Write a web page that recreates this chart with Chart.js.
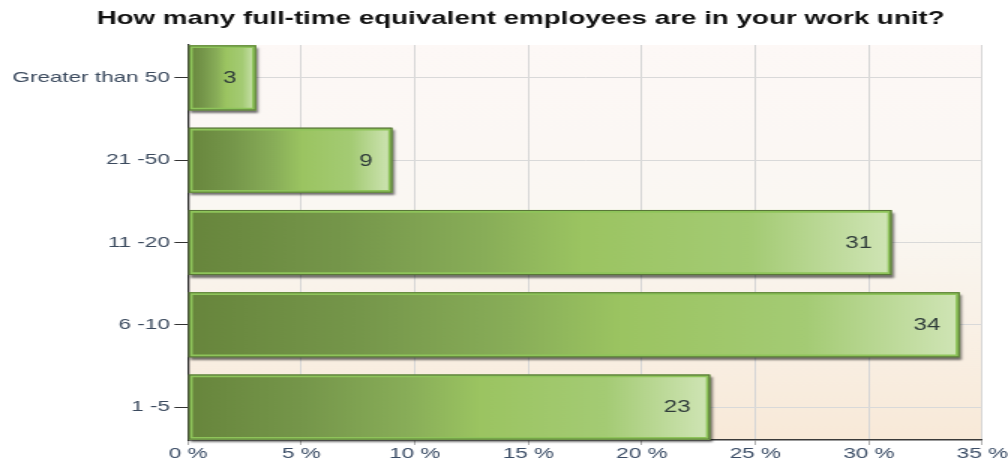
<!DOCTYPE html>
<html><head><meta charset="utf-8">
<script src="https://cdn.jsdelivr.net/npm/chart.js@4"></script>
<style>
html,body{margin:0;padding:0;background:#fff;overflow:hidden;}
#wrap{width:672px;height:463px;transform:scale(1.5,1);transform-origin:0 0;}
canvas{display:block;}
</style></head><body>
<div id="wrap"><canvas id="c" width="672" height="463"></canvas></div>
<script>
const chartTitle = 'How many full-time equivalent employees are in your work unit?';
const categories = ['Greater than 50', '21 -50', '11 -20', '6 -10', '1 -5'];
const percentValues = [3, 9, 31, 34, 23];
const xTickValues = [0, 5, 10, 15, 20, 25, 30, 35];

const FONT = "'Liberation Sans', Arial, sans-serif";

function barFill(c) {
  const chart = c.chart, xs = chart.scales && chart.scales.x;
  if (!xs || c.type !== 'data' || !c.raw) return '#9cc560';
  const x0 = xs.getPixelForValue(0), x1 = xs.getPixelForValue(c.raw.x);
  if (!isFinite(x0) || !isFinite(x1) || x1 <= x0) return '#9cc560';
  const g = chart.ctx.createLinearGradient(x0, 0, x1, 0);
  g.addColorStop(0, '#67853c');
  g.addColorStop(0.22, '#75964a');
  g.addColorStop(0.42, '#88ad58');
  g.addColorStop(0.56, '#9bc461');
  g.addColorStop(0.8, '#a4cb74');
  g.addColorStop(1, '#d0e5b6');
  return g;
}

const bgPlugin = {
  id: 'bg',
  beforeDraw(chart) {
    const {ctx, chartArea: a} = chart;
    const g = ctx.createLinearGradient(0, a.top, 0, a.bottom);
    g.addColorStop(0, '#fdf8f6');
    g.addColorStop(0.45, '#faf7f2');
    g.addColorStop(1, '#f8e9d8');
    ctx.save();
    ctx.fillStyle = g;
    ctx.fillRect(a.left, a.top, a.right - a.left, a.bottom - a.top);
    ctx.restore();
  }
};

const titlePlugin = {
  id: 'chartTitleText',
  afterDraw(chart) {
    const ctx = chart.ctx;
    ctx.save();
    ctx.fillStyle = '#111';
    ctx.font = 'bold 18.5px ' + FONT;
    ctx.textAlign = 'center';
    ctx.textBaseline = 'middle';
    ctx.fillText(chartTitle, chart.width * 0.5165, 19);
    ctx.restore();
  }
};

function barRects(chart) {
  const meta = chart.getDatasetMeta(0);
  return meta.data.map((el, i) => {
    const p = el.getProps(['x', 'y', 'base', 'height'], true);
    const l = Math.min(p.x, p.base), r = Math.max(p.x, p.base);
    return {l, r, t: p.y - p.height / 2, h: p.height, y: p.y, i};
  });
}

const barDeco = {
  id: 'barDeco',
  beforeDatasetsDraw(chart) {
    const ctx = chart.ctx;
    barRects(chart).forEach(b => {
      ctx.save();
      ctx.shadowColor = 'rgba(0,0,0,0.55)';
      ctx.shadowBlur = 2;
      ctx.shadowOffsetX = 1.6;
      ctx.shadowOffsetY = 2.5;
      ctx.fillStyle = '#555';
      ctx.fillRect(b.l, b.t, b.r - b.l, b.h);
      ctx.restore();
    });
  },
  afterDatasetsDraw(chart) {
    const ctx = chart.ctx;
    barRects(chart).forEach(b => {
      ctx.save();
      ctx.strokeStyle = 'rgba(80,105,50,0.85)';
      ctx.lineWidth = 1;
      ctx.strokeRect(b.l + 0.5, b.t + 0.5, b.r - b.l - 1, b.h - 1);
      ctx.fillStyle = '#2f3b3a';
      ctx.font = '16px ' + FONT;
      ctx.textAlign = 'right';
      ctx.textBaseline = 'middle';
      ctx.fillText(String(percentValues[b.i]), b.r - 13, b.y + 1);
      ctx.restore();
    });
  }
};

new Chart(document.getElementById('c'), {
  type: 'bar',
  data: {
    datasets: [{
      data: percentValues.map((v, i) => ({x: v, y: i})),
      backgroundColor: barFill,
      borderColor: '#8ec45a',
      borderWidth: 3,
      borderSkipped: false,
      barThickness: 65
    }]
  },
  options: {
    indexAxis: 'y',
    responsive: false,
    animation: false,
    devicePixelRatio: 1,
    layout: {padding: {left: 0, right: 17, top: 45, bottom: 0}},
    plugins: {
      legend: {display: false},
      tooltip: {enabled: false},
      title: {display: false}
    },
    scales: {
      x: {
        type: 'linear', min: 0, max: 35, offset: false,
        afterBuildTicks(s) { s.ticks = xTickValues.map(v => ({value: v})); },
        ticks: {callback: v => v + ' %', color: '#3b4d66', font: {family: FONT, size: 15}, padding: 0, maxRotation: 0, autoSkip: false},
        grid: {color: '#d6d6d6', tickColor: '#b0b0b0', tickLength: 5, lineWidth: 1, offset: false},
        border: {display: true, color: '#3a3a3a', width: 1.6},
        afterFit(s) { s.height = 23; }
      },
      y: {
        type: 'linear', reverse: true, min: -0.4, max: 4.4, offset: false,
        afterBuildTicks(s) { s.ticks = categories.map((c, i) => ({value: i})); },
        ticks: {callback: v => categories[v], color: '#3b4a5e', font: {family: FONT, size: 15}, padding: 3, autoSkip: false},
        grid: {color: '#d9d9d9', tickColor: '#333', tickLength: 9, lineWidth: 1, offset: false},
        border: {display: true, color: '#333', width: 1.3},
        afterFit(s) { s.width = 125.3; }
      }
    }
  },
  plugins: [bgPlugin, barDeco, titlePlugin]
});
</script>
</body></html>
